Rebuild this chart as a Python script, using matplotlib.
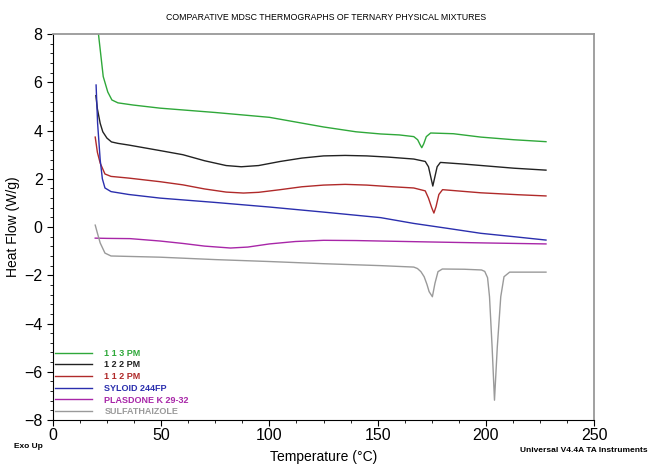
import matplotlib
matplotlib.use("Agg")
import matplotlib.pyplot as plt
from matplotlib.ticker import MultipleLocator

plt.rcParams['font.family'] = ['Liberation Sans', 'DejaVu Sans']

# --- 数据 ---
labels = ['1 1 3 PM', '1 2 2 PM', '1 1 2 PM', 'SYLOID 244FP', 'PLASDONE K 29-32', 'SULFATHAIZOLE']
colors = ['#2fa83a', '#222222', '#b02a2a', '#2b2fae', '#a826a8', '#9a9a9a']

t_113 = [19.8, 21, 22, 23.2, 25.3, 27.2, 30, 37, 49.5, 75, 100, 125, 140, 151.4, 160,
         166.7, 168.5, 169.6, 170.4, 171.3, 172.5, 174.5, 185, 197.7, 213, 227.8]
hf_113 = [8.6, 8.0, 7.2, 6.24, 5.6, 5.27, 5.15, 5.06, 4.93, 4.75, 4.55, 4.15, 3.95, 3.86, 3.82,
          3.75, 3.62, 3.42, 3.29, 3.45, 3.75, 3.9, 3.87, 3.73, 3.62, 3.54]

t_122 = [19.8, 20.5, 21.8, 23, 24.9, 27, 30, 35, 49.5, 60, 70, 80, 87, 95, 105, 115, 125, 135,
         145, 155, 166.7, 172, 173.5, 174.5, 175.5, 176.5, 177.5, 179, 190, 213, 227.8]
hf_122 = [5.45, 4.9, 4.3, 3.95, 3.69, 3.53, 3.47, 3.4, 3.17, 3.0, 2.75, 2.55, 2.5, 2.55, 2.72,
          2.86, 2.95, 2.97, 2.95, 2.9, 2.82, 2.72, 2.5, 2.1, 1.7, 2.1, 2.5, 2.68, 2.61, 2.44, 2.36]

t_112 = [19.5, 20.5, 21.8, 24, 26.8, 35, 49.5, 60, 70, 80, 88, 95, 105, 115, 125, 135, 145,
         155, 166.7, 172, 173.5, 175, 176, 177, 178.3, 180, 197.7, 215, 227.8]
hf_112 = [3.73, 3.1, 2.65, 2.2, 2.1, 2.03, 1.88, 1.75, 1.58, 1.45, 1.41, 1.44, 1.55, 1.67,
          1.74, 1.77, 1.74, 1.68, 1.62, 1.5, 1.2, 0.8, 0.58, 0.85, 1.35, 1.55, 1.42, 1.34, 1.29]

t_syl = [19.9, 20.6, 21.8, 22.8, 24, 26.8, 35, 49.5, 75, 100, 125, 151.4, 166.7, 182,
         197.7, 213, 227.8]
hf_syl = [5.89, 4.3, 2.78, 2.0, 1.62, 1.47, 1.35, 1.2, 1.02, 0.83, 0.62, 0.39, 0.15,
          -0.05, -0.26, -0.4, -0.54]

t_pla = [19.5, 25, 35.6, 49.5, 60, 70, 82, 90, 100, 112, 125, 140, 151.4, 175, 200, 227.8]
hf_pla = [-0.46, -0.47, -0.48, -0.58, -0.68, -0.79, -0.87, -0.83, -0.7, -0.6, -0.55, -0.56,
          -0.58, -0.62, -0.66, -0.7]

t_sul = [19.5, 20.5, 21.8, 24, 26.8, 49.5, 75, 100, 125, 151.4, 166.7, 168.4, 170, 171.5,
         172.8, 173.8, 175.3, 176.5, 177.9, 179.9, 190, 198, 199.5, 200.8, 201.7, 202.9, 204,
         205.3, 206.9, 208.4, 211, 213, 227.8]
hf_sul = [0.08, -0.25, -0.66, -1.08, -1.2, -1.25, -1.35, -1.43, -1.52, -1.6, -1.66, -1.72,
          -1.85, -2.06, -2.38, -2.68, -2.89, -2.33, -1.85, -1.74, -1.75, -1.78, -1.84, -2.1,
          -2.89, -4.97, -7.18, -4.97, -2.89, -2.06, -1.87, -1.87, -1.87]

temps = [t_113, t_122, t_112, t_syl, t_pla, t_sul]
flows = [hf_113, hf_122, hf_112, hf_syl, hf_pla, hf_sul]


def plot_mdsc():
    fig = plt.figure(figsize=(6.49, 4.74), dpi=100)
    ax = fig.add_axes([0.0817, 0.114, 0.8336, 0.814])

    for t, hf, lab, c in zip(temps, flows, labels, colors):
        ax.plot(t, hf, color=c, lw=1.0, label=lab)

    ax.set_xlim(0, 250)
    ax.set_ylim(-8, 8)
    ax.xaxis.set_major_locator(MultipleLocator(50))
    ax.xaxis.set_minor_locator(MultipleLocator(12.5))
    ax.yaxis.set_major_locator(MultipleLocator(2))
    ax.yaxis.set_minor_locator(MultipleLocator(0.4))
    ax.tick_params(axis='both', which='major', labelsize=11.5, length=4, width=0.8, direction='out')
    ax.tick_params(axis='both', which='minor', length=2.5, width=0.6, direction='out')
    ax.tick_params(axis='x', pad=2)

    ax.spines['top'].set_color('#999999')
    ax.spines['right'].set_color('#999999')
    ax.spines['top'].set_linewidth(1.3)
    ax.spines['right'].set_linewidth(1.3)

    ax.set_xlabel('Temperature (°C)', fontsize=10, labelpad=5)
    ax.set_ylabel('Heat Flow (W/g)', fontsize=10, labelpad=3)

    ax.legend(loc='lower left', bbox_to_anchor=(0.0, 0.005), frameon=False,
              handlelength=4.1, handletextpad=1.4, labelspacing=0.3,
              borderpad=0.2, borderaxespad=0.0, labelcolor='linecolor',
              prop={'weight': 'bold', 'size': 6.5})

    fig.text(0.503, 1 - 17 / 474, 'COMPARATIVE MDSC THERMOGRAPHS OF TERNARY PHYSICAL MIXTURES',
             ha='center', va='center', fontsize=6.3)
    fig.text(0.022, 1 - 447 / 474, 'Exo Up', ha='left', va='center', fontsize=6, weight='bold')
    fig.text(0.998, 1 - 451 / 474, 'Universal V4.4A TA Instruments', ha='right', va='center',
             fontsize=6, weight='bold')

    fig.savefig('out.png', dpi=100)


if __name__ == "__main__":
    plot_mdsc()
